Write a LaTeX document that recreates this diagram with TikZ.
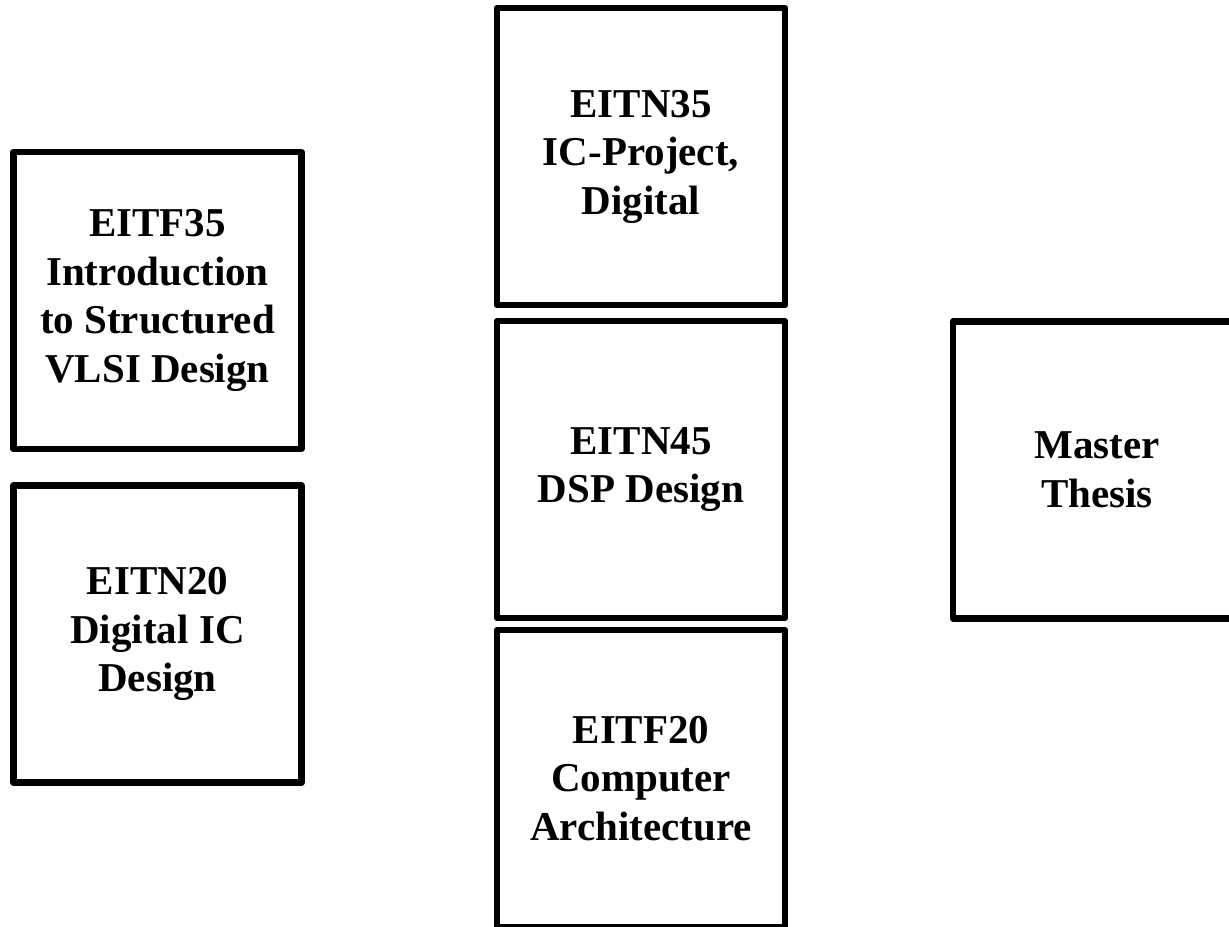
\documentclass[tikz,border=0pt]{standalone}
\usepackage{fontspec}
\setmainfont{Liberation Serif}
\begin{document}
\begin{tikzpicture}[x=1bp,y=-1bp,
  course/.style={draw=black, line width=6.5bp, line join=round, rectangle,
    minimum width=288bp, minimum height=297bp, inner sep=0pt, align=center,
    font=\bfseries\fontsize{41bp}{48.5bp}\selectfont}]
  \useasboundingbox (0,0) rectangle (1229,927);
  \clip (0,0) rectangle (1229,927);
  \node[course] (eitf35) at (157.5,300.5) {EITF35\\Introduction\\to Structured\\VLSI Design};
  \node[course] (eitn20) at (157.5,634) {EITN20\\Digital IC\\Design};
  \node[course] (eitn35) at (641,156.5) {EITN35\\IC-Project,\\Digital};
  \node[course] (eitn45) at (641,469.5) {EITN45\\DSP Design};
  \node[course] (eitf20) at (641,778.5) {EITF20\\Computer\\Architecture};
  \node[course] (thesis) at (1097,470) {Master\\Thesis};
\end{tikzpicture}
\end{document}
